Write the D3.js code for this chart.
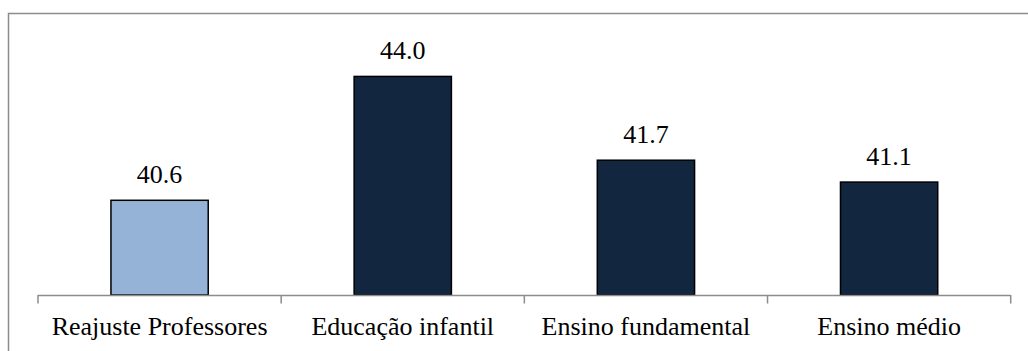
<!DOCTYPE html>
<html>
<head>
<meta charset="utf-8">
<script src="https://cdn.jsdelivr.net/npm/d3@7"></script>
</head>
<body style="margin:0;background:#ffffff">
<svg id="chart" width="1028" height="351" style="display:block"></svg>
<script>
// Chart data
const categories = ["Reajuste Professores", "Educação infantil", "Ensino fundamental", "Ensino médio"];
const values = [40.6, 44.0, 41.7, 41.1];
const barColors = ["#95b3d7", "#12263f", "#12263f", "#12263f"];
const yDomain = [38, 45];

const FONT = "'Liberation Serif', Tinos, Times";

const svg = d3.select("#chart");
const W = 1028, H = 351;

// Outer frame (only top and left edges fall inside the canvas)
svg.append("rect")
  .attr("x", 8.5).attr("y", 13.5)
  .attr("width", W + 10).attr("height", H + 10)
  .attr("fill", "none")
  .attr("stroke", "#8c8c8c")
  .attr("stroke-width", 1.5);

const plot = { left: 38, right: 1010.7, top: 40, bottom: 295 };

const x = d3.scaleBand()
  .domain(categories)
  .range([plot.left, plot.right])
  .paddingInner(0.6)
  .paddingOuter(0.3);

const y = d3.scaleLinear()
  .domain(yDomain)
  .range([plot.bottom, plot.top]);

// Bars
svg.append("g").selectAll("rect")
  .data(categories)
  .join("rect")
  .attr("x", d => x(d))
  .attr("y", (d, i) => y(values[i]))
  .attr("width", x.bandwidth())
  .attr("height", (d, i) => y(yDomain[0]) - y(values[i]))
  .attr("fill", (d, i) => barColors[i])
  .attr("stroke", "#000")
  .attr("stroke-width", 1.5);

// Value labels above bars
svg.append("g").selectAll("text")
  .data(categories)
  .join("text")
  .attr("x", d => x(d) + x.bandwidth() / 2)
  .attr("y", (d, i) => y(values[i]) - 17.5)
  .attr("text-anchor", "middle")
  .attr("font-family", FONT)
  .attr("font-size", 26)
  .style("font-family", FONT, "important")
  .style("font-size", "26px")
  .attr("fill", "#000")
  .text((d, i) => values[i].toFixed(1));

// Category axis with ticks at band boundaries
const boundaries = d3.range(categories.length + 1).map(i => plot.left + i * (plot.right - plot.left) / categories.length);
const axisG = svg.append("g");
axisG.append("line")
  .attr("x1", plot.left).attr("x2", plot.right)
  .attr("y1", plot.bottom + 0.5).attr("y2", plot.bottom + 0.5)
  .attr("stroke", "#8c8c8c").attr("stroke-width", 1.5);
axisG.selectAll("line.tick")
  .data(boundaries)
  .join("line")
  .attr("class", "tick")
  .attr("x1", d => d).attr("x2", d => d)
  .attr("y1", plot.bottom).attr("y2", plot.bottom + 8.5)
  .attr("stroke", "#8c8c8c").attr("stroke-width", 1.5);

axisG.selectAll("text")
  .data(categories)
  .join("text")
  .attr("x", d => x(d) + x.bandwidth() / 2)
  .attr("y", 335)
  .attr("text-anchor", "middle")
  .attr("font-family", FONT)
  .attr("font-size", 26)
  .style("font-family", FONT, "important")
  .style("font-size", "26px")
  .attr("fill", "#000")
  .text(d => d);
</script>
</body>
</html>
